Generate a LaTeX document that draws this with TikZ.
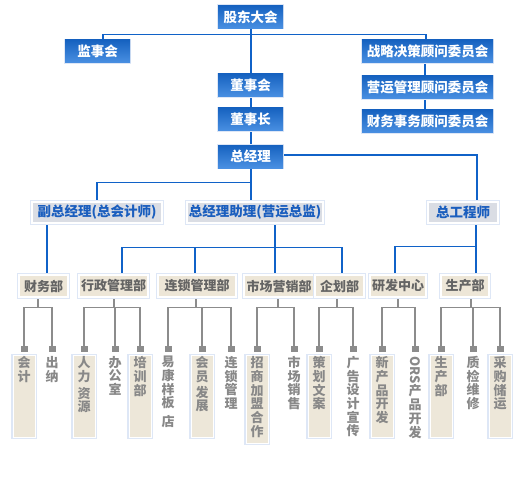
\documentclass[tikz,border=0pt]{standalone}
\usepackage{fontspec}
\usepackage{graphicx}
\setmainfont{Noto Sans CJK SC}
\usetikzlibrary{backgrounds}
\definecolor{bline}{RGB}{16,98,200}
\definecolor{btop}{RGB}{22,98,192}
\definecolor{bbot}{RGB}{74,144,226}
\definecolor{glow}{RGB}{222,231,246}
\definecolor{gfill}{RGB}{218,221,228}
\definecolor{gtext}{RGB}{26,94,190}
\definecolor{bfill}{RGB}{237,230,215}
\definecolor{btext}{RGB}{100,100,100}
\definecolor{lfill}{RGB}{237,231,217}
\definecolor{ltext}{RGB}{136,136,136}
\definecolor{gline}{RGB}{140,140,140}
\newcommand\vtxt[2]{\parbox[t][#1][t]{14pt}{\centering #2}}
\tikzset{
  bluebox/.style={top color=btop, bottom color=bbot, text=white, inner sep=0pt,
    minimum height=23pt, preaction={draw=glow, line width=2pt},
    font=\fontsize{13.5}{14}\selectfont\bfseries},
  graybox/.style={fill=gfill, draw=white, line width=1.2pt, inner sep=0pt,
    preaction={draw=glow, line width=4pt}, minimum height=21pt, text=gtext,
    font=\fontsize{13.5}{14}\selectfont\bfseries},
  beigebox/.style={fill=bfill, draw=white, line width=1.2pt, inner sep=0pt,
    preaction={draw=glow, line width=3.5pt}, minimum height=22pt, text=btext,
    font=\fontsize{13}{14}\selectfont\bfseries},
  leafplain/.style={anchor=north, inner xsep=4pt, inner ysep=1pt, text=ltext,
    font=\fontsize{13}{13.7}\selectfont\bfseries},
  leafbox/.style={leafplain, fill=lfill, draw=white, line width=1pt,
    preaction={draw=glow, line width=3.5pt}},
  tipbox/.style={fill=gline, inner sep=0pt, minimum width=7pt, minimum height=6pt},
  bl/.style={draw=bline, line width=1.3pt},
  spine/.style={draw=bline, line width=2pt},
  gl/.style={draw=gline, line width=1.2pt}
}
\begin{document}
\begin{tikzpicture}[x=1pt,y=-1pt]
\useasboundingbox (0,0) rectangle (527,500);
% row 1
\node[bluebox, minimum width=65pt] (gd) at (250.5,17) {股东大会};
\node[bluebox, minimum width=65pt] (jsh) at (97.5,51.5) {监事会};
\node[bluebox, minimum width=131pt] (zl) at (427.5,51.5) {战略决策顾问委员会};
\node[bluebox, minimum width=131pt] (yy) at (427.5,87.5) {营运管理顾问委员会};
\node[bluebox, minimum width=131pt] (cw) at (427.5,121.5) {财务事务顾问委员会};
\node[bluebox, minimum width=65pt] (dsh) at (250.5,85.5) {董事会};
\node[bluebox, minimum width=65pt] (dsz) at (250.5,119.5) {董事长};
\node[bluebox, minimum width=65pt] (zjl) at (250.5,156.5) {总经理};
% row 2
\node[graybox, minimum width=130pt] (fz) at (97,212.5) {副总经理(总会计师)};
\node[graybox, minimum width=136pt] (zz) at (255,212.5) {总经理助理(营运总监)};
\node[graybox, minimum width=70pt] (zgc) at (463,212.5) {总工程师};
% row 3
\node[beigebox, minimum width=49pt] (cwb) at (43.5,286) {财务部};
\node[beigebox, minimum width=69pt] (xz) at (113.5,286) {行政管理部};
\node[beigebox, minimum width=78pt] (ls) at (197,286) {连锁管理部};
\node[beigebox, minimum width=70pt] (sc) at (279,286) {市场营销部};
\node[beigebox, minimum width=49pt] (qh) at (339.5,286) {企划部};
\node[beigebox, minimum width=56pt] (yf) at (398,286) {研发中心};
\node[beigebox, minimum width=48pt] (scb) at (465,286) {生产部};
% markers
\foreach \n/\x in {kj/24,cn/52,rl/84,bgs/115,px/140,yk/168,hy/202,lsgl/231,zs/257,scxs/294,ch/319,gg/353,xcp/382,ors/415,scl/441,zj/473,cg/500}
  \node[tipbox] (\n m) at (\x,349) {};
% leaves
\node[leafbox]   (kj)   at (24,355)  {\vtxt{80pt}{会\\计}};
\node[leafplain] (cn)   at (52,355)  {\vtxt{80pt}{出\\纳}};
\node[leafbox]   (rl)   at (84,355)  {\vtxt{80pt}{人\\力\\[3pt]资\\源}};
\node[leafplain] (bgs)  at (115,355) {\vtxt{80pt}{办\\公\\室}};
\node[leafbox]   (px)   at (140,355) {\vtxt{80pt}{培\\训\\部}};
\node[leafplain] (yk)   at (168,355) {\vtxt{80pt}{易\\康\\样\\板\\[5pt]店}};
\node[leafbox]   (hy)   at (202,355) {\vtxt{80pt}{会\\员\\[2pt]发\\展}};
\node[leafplain] (lsgl) at (231,355) {\vtxt{80pt}{连\\锁\\管\\理}};
\node[leafbox]   (zs)   at (257,355) {\vtxt{86pt}{招\\商\\加\\盟\\合\\作}};
\node[leafplain] (scxs) at (294,355) {\vtxt{80pt}{市\\场\\销\\售}};
\node[leafbox]   (ch)   at (319,355) {\vtxt{80pt}{策\\划\\文\\案}};
\node[leafplain] (gg)   at (353,355) {\vtxt{80pt}{广\\告\\设\\计\\宣\\传}};
\node[leafbox]   (xcp)  at (382,355) {\vtxt{80pt}{新\\产\\品\\开\\发}};
\node[leafplain] (ors)  at (415,355) {\vtxt{80pt}{\rotatebox{-90}{ORS}\\产\\品\\开\\发}};
\node[leafbox]   (scl)  at (441,355) {\vtxt{80pt}{生\\产\\部}};
\node[leafplain] (zj)   at (473,355) {\vtxt{80pt}{质\\检\\维\\修}};
\node[leafbox]   (cg)   at (500,355) {\vtxt{80pt}{采\\购\\储\\运}};
\begin{scope}[on background layer]
\fill[white] (0,0) rectangle (527,500);
% blue connectors
\draw[spine] (gd.south) -- (gd.south |- zz.north);
\draw[bl] ([xshift=5.5pt]jsh.north) -- ++(0,-5) -| ([xshift=-1.5pt]zl.north);
\draw[bl] ([xshift=-2.5pt]zl.south) -- ([xshift=-2.5pt]cw.north);
\draw[bl] ([yshift=1.5pt]zjl.east) -| ([xshift=14pt]zgc.north);
\draw[bl] (fz.north) |- ([yshift=-14pt]zjl.south);
\draw[bl] ([xshift=3.5pt]cwb.north) -- ([xshift=3.5pt]cwb.north |- fz.south);
\draw[bl] ([xshift=20pt]zz.south) -- ([xshift=-4pt]sc.north);
\draw[bl] ([xshift=8.5pt]xz.north) |- ([xshift=-4pt,yshift=27pt]sc.north) -| ([xshift=2.5pt]qh.north);
\draw[bl] ([xshift=-2pt]ls.north) -- ++(0,-27);
\draw[bl] ([xshift=13pt]zgc.south) -- ([xshift=11pt]scb.north);
\draw[bl] ([xshift=-3pt]yf.north) |- ([xshift=11pt,yshift=28pt]scb.north);
% gray connectors
\draw[gl] ([xshift=-5.5pt]cwb.south) -- ++(0,10) coordinate (j1);
\draw[gl] (kjm.north) |- (j1) -| (cnm.north);
\draw[gl] ([xshift=0.5pt]xz.south) -- ++(0,10) coordinate (j2);
\draw[gl] (rlm.north) |- (j2) -| (pxm.north);
\draw[gl] (bgsm.north) -- (bgsm.north |- j2);
\draw[gl] ([xshift=-1pt]ls.south) -- ++(0,10) coordinate (j3);
\draw[gl] (ykm.north) |- (j3) -| (lsglm.north);
\draw[gl] (hym.north) -- (hym.north |- j3);
\draw[gl] ([xshift=-1pt]sc.south) -- ++(0,10) coordinate (j4);
\draw[gl] (zsm.north) |- (j4) -| (scxsm.north);
\draw[gl] ([xshift=-2.5pt]qh.south) -- ++(0,10) coordinate (j5);
\draw[gl] (chm.north) |- (j5) -| (ggm.north);
\draw[gl] (yf.south) -- ++(0,10) coordinate (j6);
\draw[gl] (xcpm.north) |- (j6) -| (orsm.north);
\draw[gl] ([xshift=6pt]scb.south) -- ++(0,10) coordinate (j7);
\draw[gl] (sclm.north) |- (j7) -| (cgm.north);
\draw[gl] (zjm.north) -- (zjm.north |- j7);
\end{scope}
\end{tikzpicture}
\end{document}
